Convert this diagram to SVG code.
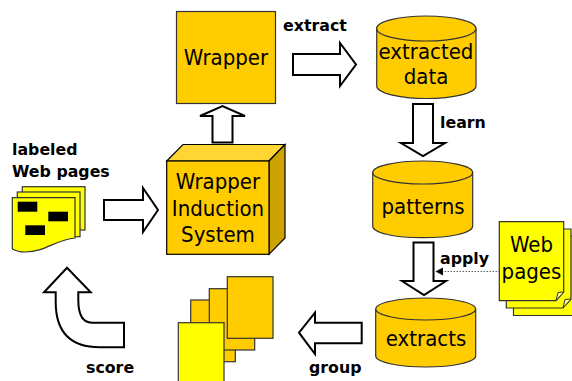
<svg xmlns="http://www.w3.org/2000/svg" width="572" height="381" viewBox="0 0 572 381">
<style>
.o{fill:#ffcc00;stroke:#333;stroke-width:1.2}
.y{fill:#ffff00;stroke:#333;stroke-width:1.2}
.f{fill:#ffff99;stroke:#333;stroke-width:1}
.a{fill:#fff;stroke:#000;stroke-width:2;stroke-linejoin:miter}
.t{font-family:"DejaVu Sans",sans-serif;font-stretch:condensed;font-size:22px;fill:#000;text-anchor:middle}
.b{font-family:"DejaVu Sans",sans-serif;font-weight:bold;font-size:15.8px;fill:#000}
</style>
<g id="connectors">
<path class="a" d="M293 54H340V43L356 64.500L340 86V75H293Z"/>
<path class="a" d="M413 104H433V143H445L423 156L401 143H413Z"/>
<path class="a" d="M413.500 242.500H433.500V281H446L424 295L402 281H413.500Z"/>
<path class="a" d="M212.500 142.500V116H200L222.500 106L245 116H232.500V142.500Z"/>
<path class="a" d="M104 200H143V188L158 210L143 232V220H104Z"/>
<path class="a" d="M124 322.700H92Q78.300 322.700 78.300 300V292.300H90.700L67 267.700L44 292.300H55.700V302Q55.700 347.300 100 347.300H124Z"/>
<path class="a" d="M361.700 322.700H315V312.700L299 332.700L315 354V343.300H361.700Z"/>
<path d="M503 271.500H443" fill="none" stroke="#666" stroke-width="1" stroke-dasharray="1.500 1.500"/>
<path d="M443 267.500V275.500L435.500 271.500Z" fill="#000"/>
</g>
<g id="wrapper"><rect class="o" x="176.500" y="11.500" width="99" height="92"/><text class="t" x="226" y="65">Wrapper</text></g>
<g id="extracted-data"><path class="o" d="M376.700 28.500V86C376.700 93 399 98.500 426.500 98.500S476 93 476 86V28.500"/><ellipse class="o" cx="426.300" cy="28.500" rx="49.700" ry="12.500"/><text class="t" x="426" y="59">extracted</text><text class="t" x="426" y="84">data</text></g>
<g id="patterns"><path class="o" d="M372.700 172.500V226C372.700 233 395 237.700 422.700 237.700S472.700 233 472.700 226V172.500"/><ellipse class="o" cx="422.700" cy="172.500" rx="50" ry="11.500"/><text class="t" x="423" y="214">patterns</text></g>
<g id="extracts"><path class="o" d="M375.700 309V356C375.700 362 398 367 425.700 367S475.700 362 475.700 356V309"/><ellipse class="o" cx="425.700" cy="309" rx="50" ry="11"/><text class="t" x="426" y="346">extracts</text></g>
<g id="web-pages">
<path class="y" d="M513.500 236H578V315.500H513.500Z"/>
<path class="y" d="M506.300 229H571V299L563 308H506.300Z"/>
<path class="f" d="M563 308L565 299.500L571 299Z"/>
<path class="y" d="M499.300 221.700H563.700V292L556 300.700H499.300Z"/>
<path class="f" d="M556 300.700L558 292.500L563.700 292Z"/>
<text class="t" x="531.500" y="252">Web</text><text class="t" x="531.500" y="278.500">pages</text></g>
<g id="wis">
<path d="M166.700 161L183 144.500H285L269 161Z" fill="#ffd633" stroke="#000" stroke-width="1.200"/>
<path d="M269 161L285 144.500V238L269 254.300Z" fill="#cca300" stroke="#000" stroke-width="1.200"/>
<rect class="o" x="166.700" y="161" width="102.300" height="93.300" style="stroke:#000"/>
<text class="t" x="218" y="189">Wrapper</text><text class="t" x="218" y="216">Induction</text><text class="t" x="218" y="242">System</text></g>
<g id="labeled-pages">
<rect class="y" x="22.300" y="186.700" width="62.700" height="43.300"/>
<rect class="y" x="17.300" y="192" width="62.700" height="44.700"/>
<path class="y" d="M12.300 197.700H75V238C55 240 45 252 25 252C20 252 15 250.500 12.300 249Z"/>
<rect x="17.700" y="201.700" width="19.600" height="10"/><rect x="48.300" y="211.700" width="19.700" height="9.600"/><rect x="25.300" y="225.300" width="19.700" height="9.700"/>
</g>
<g id="result-pages">
<rect class="o" x="190.700" y="300" width="44.600" height="61.700"/>
<rect class="o" x="209.300" y="288.700" width="45.400" height="61.300"/>
<rect class="o" x="227.300" y="276.700" width="45.700" height="61.600"/>
<rect class="y" x="178.300" y="322.700" width="45.700" height="70"/>
</g>
<g id="labels">
<text class="b" x="283" y="31">extract</text>
<text class="b" x="440" y="128">learn</text>
<text class="b" x="440" y="264">apply</text>
<text class="b" x="309" y="373">group</text>
<text class="b" x="86" y="373">score</text>
<text class="b" x="12" y="155">labeled</text>
<text class="b" x="12" y="177">Web pages</text>
</g>
</svg>
